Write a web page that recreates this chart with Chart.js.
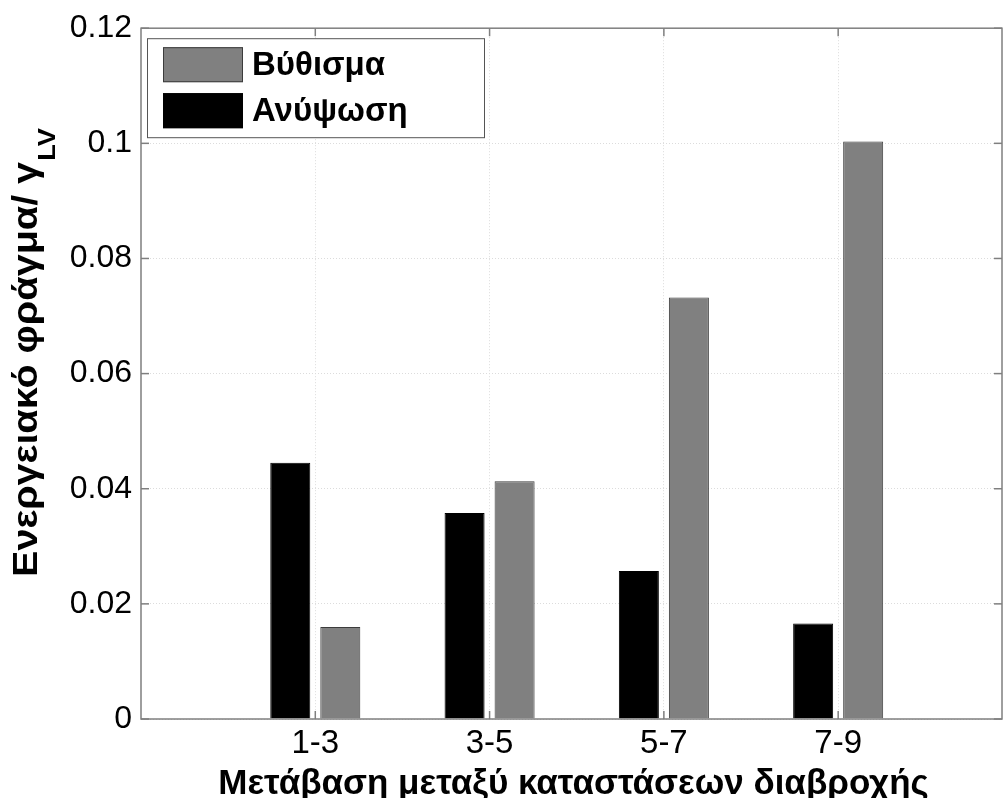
<!DOCTYPE html>
<html>
<head>
<meta charset="utf-8">
<script src="https://cdn.jsdelivr.net/npm/chart.js@4.4.1/dist/chart.umd.min.js"></script>
<style>
  html, body { margin: 0; padding: 0; background: #fff; }
  #wrap { width: 1003px; height: 798px; }
</style>
</head>
<body>
<div id="wrap"><canvas id="chart" width="1003" height="798"></canvas></div>
<script>
var categories = ['1-3', '3-5', '5-7', '7-9']
var liftValues = [0.0445, 0.0358, 0.0257, 0.0166]   // Ανύψωση
var sinkValues = [0.0160, 0.0413, 0.0732, 0.1003]   // Βύθισμα
var yTicks     = [0, 0.02, 0.04, 0.06, 0.08, 0.1, 0.12]

var FONT = "'Liberation Sans', Arial, Helvetica, sans-serif"
var AXIS = '#7f7f7f'
var GRID = '#dcdcdc'

Chart.defaults.font.family = FONT
Chart.defaults.color = '#000'

function line(ctx, x1, y1, x2, y2) {
  ctx.beginPath()
  ctx.moveTo(x1, y1)
  ctx.lineTo(x2, y2)
  ctx.stroke()
}

// box, inward ticks, legend inside the axes and the two axis titles
var matlabLook = {
  id: 'matlabLook',
  afterDatasetsDraw(chart) {
    var ctx = chart.ctx
    var a = chart.chartArea
    var xs = chart.scales.x
    var ys = chart.scales.y

    ctx.save()
    ctx.strokeStyle = AXIS
    ctx.lineWidth = 1.5
    xs.ticks.forEach(function (t) {
      var px = xs.getPixelForValue(t.value)
      line(ctx, px, a.bottom, px, a.bottom - 8)
      line(ctx, px, a.top, px, a.top + 8)
    })
    ys.ticks.forEach(function (t) {
      var py = ys.getPixelForValue(t.value)
      line(ctx, a.left, py, a.left + 8, py)
      line(ctx, a.right, py, a.right - 8, py)
    })
    ctx.strokeRect(a.left, a.top, a.right - a.left, a.bottom - a.top)

    // legend (reversed dataset order, like the original)
    var lx = a.left + 6, ly = a.top + 10
    ctx.fillStyle = '#fff'
    ctx.fillRect(lx, ly, 337, 99)
    ctx.lineWidth = 1
    ctx.strokeStyle = '#555'
    ctx.strokeRect(lx + 0.5, ly + 0.5, 337, 99)
    var sets = chart.data.datasets.slice().reverse()
    ctx.font = 'bold 33px ' + FONT
    ctx.textBaseline = 'middle'
    ctx.textAlign = 'left'
    sets.forEach(function (ds, i) {
      var ry = ly + 9 + i * 46
      ctx.fillStyle = ds.backgroundColor
      ctx.fillRect(lx + 16, ry, 80, 35)
      ctx.strokeStyle = ds.borderColor
      ctx.strokeRect(lx + 16.5, ry + 0.5, 79, 34)
      ctx.fillStyle = '#000'
      ctx.fillText(ds.label, lx + 105, ry + 19)
    })

    // x title
    ctx.font = 'bold 35px ' + FONT
    ctx.textBaseline = 'alphabetic'
    ctx.textAlign = 'center'
    ctx.fillText('Μετάβαση μεταξύ καταστάσεων διαβροχής', (a.left + a.right) / 2 + 2, 794)

    // y title with subscript (slightly stretched along its length, as in the original)
    ctx.translate(37, 577)
    ctx.rotate(-Math.PI / 2)
    ctx.scale(1.13, 1)
    ctx.textAlign = 'left'
    var main = 'Ενεργειακό φράγμα/ γ'
    ctx.fillText(main, 0, 0)
    var w = ctx.measureText(main).width
    ctx.font = 'bold 24px ' + FONT
    ctx.fillText('LV', w + 1, 18)
    ctx.restore()
  }
}

new Chart(document.getElementById('chart'), {
  type: 'bar',
  data: {
    datasets: [{
      label: 'Ανύψωση',
      data: liftValues.map(function (v, i) { return { x: i + 1, y: v } }),
      backgroundColor: '#000000',
      borderColor: '#000000',
      borderWidth: 1
    }, {
      label: 'Βύθισμα',
      data: sinkValues.map(function (v, i) { return { x: i + 1, y: v } }),
      backgroundColor: '#808080',
      borderColor: '#3c3c3c',
      borderWidth: 1
    }]
  },
  options: {
    responsive: false,
    animation: false,
    categoryPercentage: 0.574,
    barPercentage: 0.8,
    layout: { padding: { top: 25, right: 1, left: 0, bottom: 0 } },
    plugins: {
      legend: { display: false },
      tooltip: { enabled: false }
    },
    scales: {
      x: {
        type: 'linear',
        min: 0,
        max: 4.94,
        offset: false,
        afterBuildTicks: function (scale) {
          scale.ticks = categories.map(function (c, i) { return { value: i + 1 } })
        },
        afterFit: function (scale) { scale.height = 79 },
        grid: { offset: false, color: GRID, lineWidth: 1, drawTicks: false },
        border: { display: false, dash: [1, 2] },
        ticks: {
          padding: 5,
          font: { size: 33 },
          color: '#000',
          callback: function (v, i) { return categories[i] }
        }
      },
      y: {
        min: 0,
        max: 0.12,
        afterBuildTicks: function (scale) {
          scale.ticks = yTicks.map(function (v) { return { value: v } })
        },
        afterFit: function (scale) { scale.width = 141 },
        grid: { color: GRID, lineWidth: 1, drawTicks: false },
        border: { display: false, dash: [1, 2] },
        ticks: {
          padding: 9,
          font: { size: 32 },
          color: '#000',
          callback: function (v) { return String(v) }
        }
      }
    }
  },
  plugins: [matlabLook]
})
</script>
</body>
</html>
